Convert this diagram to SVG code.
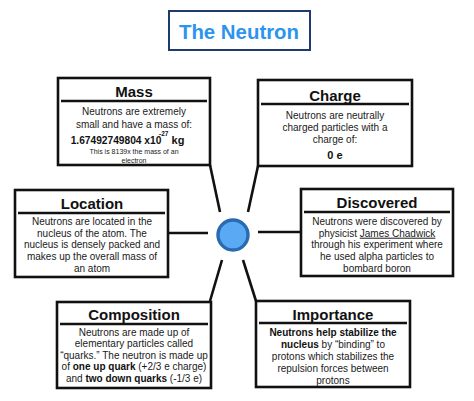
<svg xmlns="http://www.w3.org/2000/svg" width="474" height="401" viewBox="0 0 474 401">
<style>
text{font-family:"Liberation Sans",Arial,Helvetica,sans-serif;text-anchor:middle;fill:#1a1a1a}
.box{fill:#fff;stroke:#111;stroke-width:2.6}
.div{stroke:#111;stroke-width:2.4}
.ttl{font-size:15px;font-weight:bold;fill:#111}
.bd{font-size:10px}
.b{font-weight:bold;fill:#111}
.sm{font-size:7px}
.con line{stroke:#111;stroke-width:2.6;stroke-linecap:butt}
</style>
<rect width="474" height="401" fill="#fff"/>
<g id="title">
<rect x="169" y="11" width="141" height="39" fill="#fff" stroke="#1d3b6f" stroke-width="2"/>
<text x="239" y="39" style="font-size:20.4px;font-weight:bold;fill:#2b95ee">The Neutron</text>
</g>
<g class="con" id="connectors">
<line x1="210" y1="165" x2="220" y2="212"/>
<line x1="258" y1="166" x2="248" y2="212"/>
<line x1="168" y1="233" x2="208" y2="233"/>
<line x1="258" y1="232" x2="301" y2="232"/>
<line x1="222" y1="260" x2="210" y2="301"/>
<line x1="243" y1="260" x2="256" y2="301"/>
</g>
<g id="neutron">
<circle cx="233" cy="235" r="15" fill="#5aa9f5" stroke="#2a6ab0" stroke-width="3.4"/>
</g>
<g id="mass">
<rect class="box" x="58" y="78" width="152" height="87"/>
<line class="div" x1="61" y1="101" x2="207" y2="101"/>
<text class="ttl" x="134" y="96.5">Mass</text>
<text class="bd" x="134" y="114.5">Neutrons are extremely</text>
<text class="bd" x="134" y="127.5">small and have a mass of:</text>
<text class="b" x="116" y="144" style="font-size:10.2px">1.67492749804 x10</text>
<text class="b" x="159" y="136" style="font-size:6.5px;text-anchor:start">-27</text>
<text class="b" x="178" y="144" style="font-size:11px">kg</text>
<text class="sm" x="134" y="154">This is 8139x the mass of an</text>
<text class="sm" x="134" y="162.5">electron</text>
</g>
<g id="charge">
<rect class="box" x="258" y="80" width="154" height="86"/>
<line class="div" x1="261" y1="104" x2="409" y2="104"/>
<text class="ttl" x="335" y="100.5">Charge</text>
<text class="bd" x="335" y="118.5">Neutrons are neutrally</text>
<text class="bd" x="335" y="131">charged particles with a</text>
<text class="bd" x="335" y="143">charge of:</text>
<text class="b" x="335" y="159" style="font-size:11px">0 e</text>
</g>
<g id="location">
<rect class="box" x="15" y="190" width="153" height="87"/>
<line class="div" x1="18" y1="213" x2="165" y2="213"/>
<text class="ttl" x="92" y="208.5">Location</text>
<text class="bd" x="92" y="225">Neutrons are located in the</text>
<text class="bd" x="92" y="236.7">nucleus of the atom. The</text>
<text class="bd" x="92" y="248.4">nucleus is densely packed and</text>
<text class="bd" x="92" y="260">makes up the overall mass of</text>
<text class="bd" x="92" y="271.7">an atom</text>
</g>
<g id="discovered">
<rect class="box" x="301" y="189" width="152" height="87"/>
<line class="div" x1="304" y1="212" x2="450" y2="212"/>
<text class="ttl" x="377" y="208">Discovered</text>
<text class="bd" x="377" y="225">Neutrons were discovered by</text>
<text class="bd" x="377" y="236.7">physicist <tspan text-decoration="underline">James Chadwick</tspan></text>
<text class="bd" x="377" y="248.4">through his experiment where</text>
<text class="bd" x="377" y="260">he used alpha particles to</text>
<text class="bd" x="377" y="271.7">bombard boron</text>
</g>
<g id="composition">
<rect class="box" x="57" y="302" width="154" height="86"/>
<line class="div" x1="60" y1="324" x2="208" y2="324"/>
<text class="ttl" x="134" y="319.5">Composition</text>
<text class="bd" x="134" y="335.5">Neutrons are made up of</text>
<text class="bd" x="134" y="347">elementary particles called</text>
<text class="bd" x="134" y="358.7">“quarks.” The neutron is made up</text>
<text class="bd" x="134" y="370.3">of <tspan class="b">one up quark</tspan> (+2/3 e charge)</text>
<text class="bd" x="134" y="382">and <tspan class="b">two down quarks</tspan> (-1/3 e)</text>
</g>
<g id="importance">
<rect class="box" x="256" y="301" width="154" height="86"/>
<line class="div" x1="259" y1="323" x2="407" y2="323"/>
<text class="ttl" x="333" y="319.5">Importance</text>
<text class="bd b" x="333" y="336">Neutrons help stabilize the</text>
<text class="bd" x="333" y="348"><tspan class="b">nucleus</tspan> by “binding” to</text>
<text class="bd" x="333" y="360">protons which stabilizes the</text>
<text class="bd" x="333" y="372">repulsion forces between</text>
<text class="bd" x="333" y="383.5">protons</text>
</g>
</svg>
